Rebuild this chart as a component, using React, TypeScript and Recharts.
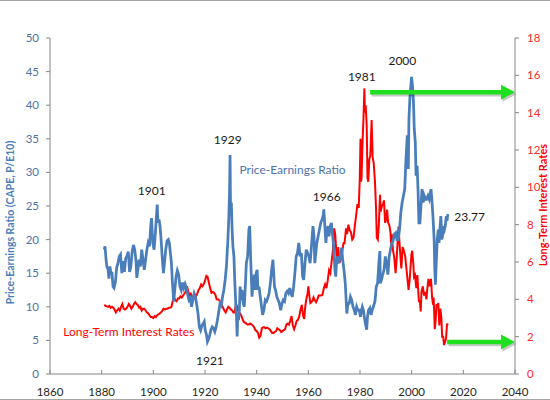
import React from 'react';
import { ComposedChart, Line, XAxis, YAxis, ReferenceLine, ReferenceDot } from 'recharts';

// Cyclically adjusted P/E (CAPE, P/E10) — year, value
const peYears = [
  1881.0, 1881.3, 1881.7, 1882.0, 1882.5, 1882.8, 1883.2, 1883.6, 1884.0, 1884.4, 1884.8, 1885.3, 1885.8,
  1886.3, 1886.8, 1887.3, 1887.8, 1888.3, 1888.8, 1889.3, 1889.8, 1890.3, 1890.8, 1891.3, 1891.8, 1892.3,
  1892.8, 1893.3, 1893.6, 1894.0, 1894.5, 1895.0, 1895.5, 1896.0, 1896.5, 1897.0, 1897.5, 1898.0, 1898.5,
  1899.0, 1899.3, 1899.8, 1900.3, 1900.8, 1901.2, 1901.5, 1901.8, 1902.2, 1902.6, 1903.0, 1903.5, 1903.9,
  1904.3, 1904.8, 1905.3, 1905.8, 1906.2, 1906.6, 1907.0, 1907.4, 1907.9, 1908.3, 1908.8, 1909.3, 1909.8,
  1910.3, 1910.8, 1911.3, 1911.8, 1912.3, 1912.8, 1913.3, 1913.8, 1914.3, 1914.8, 1915.3, 1915.8, 1916.3,
  1916.8, 1917.3, 1917.8, 1918.3, 1918.8, 1919.3, 1919.7, 1920.1, 1920.6, 1920.95, 1921.4, 1921.9, 1922.3,
  1922.8, 1923.3, 1923.8, 1924.3, 1924.8, 1925.3, 1925.8, 1926.3, 1926.8, 1927.3, 1927.8, 1928.3, 1928.8,
  1929.2, 1929.5, 1929.7, 1929.9, 1930.2, 1930.5, 1930.8, 1931.2, 1931.5, 1931.9, 1932.2, 1932.45, 1932.7,
  1933.0, 1933.3, 1933.6, 1933.9, 1934.3, 1934.8, 1935.2, 1935.6, 1936.0, 1936.5, 1937.0, 1937.3, 1937.7,
  1938.2, 1938.6, 1939.0, 1939.4, 1939.8, 1940.2, 1940.5, 1940.9, 1941.4, 1941.9, 1942.3, 1942.8, 1943.3,
  1943.8, 1944.3, 1944.8, 1945.3, 1945.8, 1946.3, 1946.6, 1946.9, 1947.3, 1947.8, 1948.3, 1948.8, 1949.3,
  1949.8, 1950.3, 1950.8, 1951.3, 1951.8, 1952.3, 1952.8, 1953.3, 1953.8, 1954.3, 1954.8, 1955.3, 1955.8,
  1956.3, 1956.8, 1957.3, 1957.8, 1958.2, 1958.7, 1959.2, 1959.7, 1960.2, 1960.7, 1961.2, 1961.8, 1962.2,
  1962.5, 1962.9, 1963.3, 1963.8, 1964.3, 1964.8, 1965.3, 1965.7, 1966.0, 1966.4, 1966.8, 1967.2, 1967.7,
  1968.0, 1968.5, 1968.9, 1969.3, 1969.8, 1970.3, 1970.6, 1970.9, 1971.3, 1971.8, 1972.3, 1972.9, 1973.3,
  1973.8, 1974.3, 1974.7, 1974.9, 1975.3, 1975.8, 1976.3, 1976.8, 1977.3, 1977.8, 1978.2, 1978.7, 1979.2,
  1979.7, 1980.2, 1980.6, 1980.9, 1981.3, 1981.8, 1982.2, 1982.6, 1982.9, 1983.3, 1983.8, 1984.3, 1984.8,
  1985.3, 1985.8, 1986.3, 1986.8, 1987.3, 1987.7, 1987.85, 1988.3, 1988.8, 1989.3, 1989.8, 1990.3, 1990.8,
  1991.3, 1991.8, 1992.3, 1992.8, 1993.3, 1993.8, 1994.3, 1994.8, 1995.3, 1995.8, 1996.3, 1996.8, 1997.3,
  1997.8, 1998.3, 1998.7, 1998.95, 1999.3, 1999.6, 1999.95, 2000.3, 2000.7, 2001.0, 2001.4, 2001.7, 2002.1,
  2002.5, 2002.8, 2003.2, 2003.6, 2004.0, 2004.5, 2004.9, 2005.4, 2005.8, 2006.3, 2006.8, 2007.2, 2007.5,
  2007.9, 2008.3, 2008.7, 2008.95, 2009.2, 2009.5, 2009.9, 2010.3, 2010.6, 2010.9, 2011.3, 2011.7, 2011.9,
  2012.3, 2012.7, 2013.0, 2013.4, 2013.7, 2014.0,
];
const peValues = [
  18.5, 19.0, 17.0, 16.0, 15.5, 14.2, 16.0, 15.0, 15.0, 13.0, 12.8, 13.6, 15.8,
  16.5, 17.5, 17.8, 15.0, 16.8, 15.2, 17.2, 17.6, 18.2, 15.2, 16.0, 18.2, 19.2,
  18.5, 16.8, 14.3, 15.5, 17.0, 16.0, 18.5, 17.0, 15.5, 17.0, 18.5, 19.5, 19.0,
  22.0, 23.2, 19.5, 18.5, 21.0, 23.5, 25.2, 22.5, 23.0, 22.0, 20.0, 17.0, 15.0,
  16.5, 18.5, 19.8, 20.0, 19.5, 18.0, 16.5, 13.5, 10.8, 12.5, 14.5, 15.4, 14.8,
  13.0, 12.5, 13.6, 12.8, 13.4, 12.8, 11.8, 11.0, 11.3, 10.0, 11.0, 12.0, 11.5,
  10.3, 9.0, 7.0, 6.5, 7.2, 7.5, 7.8, 6.5, 5.8, 4.8, 5.2, 5.9, 6.6,
  7.0, 6.8, 6.3, 7.0, 8.0, 9.2, 10.5, 10.2, 11.5, 12.5, 14.0, 16.0, 19.5,
  23.0, 27.0, 32.6, 24.0, 25.5, 21.5, 19.0, 17.5, 14.0, 10.5, 8.5, 5.6, 9.0,
  8.0, 9.5, 13.0, 11.0, 12.5, 10.5, 10.0, 13.0, 16.5, 17.5, 21.5, 22.0, 17.0,
  11.5, 13.5, 14.8, 12.5, 15.0, 15.5, 12.5, 13.0, 11.5, 10.0, 8.8, 9.5, 11.0,
  10.8, 11.3, 12.0, 13.5, 15.5, 17.0, 15.0, 13.0, 12.5, 11.5, 11.0, 10.5, 9.5,
  10.5, 11.0, 10.8, 12.0, 12.3, 12.0, 12.8, 12.0, 11.5, 13.0, 15.0, 17.5, 18.0,
  19.5, 17.5, 18.0, 14.5, 14.0, 16.5, 18.5, 18.0, 17.5, 16.5, 19.0, 22.0, 20.5,
  16.5, 18.0, 19.5, 20.5, 21.5, 22.5, 23.0, 23.5, 24.5, 22.0, 19.5, 21.5, 22.0,
  20.5, 22.0, 22.5, 21.0, 19.0, 15.5, 14.5, 16.5, 17.5, 16.5, 17.5, 18.8, 17.0,
  15.5, 13.5, 10.5, 9.0, 10.5, 10.5, 11.5, 11.0, 10.0, 9.5, 8.8, 10.0, 9.5,
  9.5, 8.5, 9.5, 10.0, 9.5, 8.2, 7.3, 6.6, 8.5, 9.5, 9.8, 8.8, 9.6,
  10.2, 10.8, 13.0, 13.5, 16.5, 18.3, 13.5, 14.0, 14.8, 15.5, 17.5, 16.5, 14.8,
  17.5, 18.5, 19.5, 19.8, 20.8, 21.0, 20.0, 20.0, 21.5, 24.0, 25.5, 26.5, 27.5,
  32.0, 35.5, 30.5, 38.0, 41.0, 42.5, 44.2, 43.0, 40.5, 36.5, 34.5, 29.5, 31.0,
  27.0, 22.5, 22.5, 25.0, 27.5, 25.5, 26.5, 26.0, 26.0, 26.5, 26.0, 27.0, 27.5,
  25.5, 23.0, 20.0, 15.5, 13.3, 16.5, 20.0, 21.5, 19.5, 21.5, 23.5, 20.0, 20.5,
  22.0, 21.5, 22.0, 23.5, 22.8, 23.8,
];

// Long-term interest rates (%) — year, value
const rateYears = [
  1881.0, 1881.5, 1882.0, 1882.5, 1883.0, 1883.5, 1884.0, 1884.5, 1885.0, 1885.5, 1886.0, 1886.5, 1887.0,
  1887.5, 1888.0, 1888.5, 1889.0, 1889.5, 1890.0, 1890.5, 1891.0, 1891.5, 1892.0, 1892.5, 1893.0, 1893.5,
  1894.0, 1894.5, 1895.0, 1895.5, 1896.0, 1896.5, 1897.0, 1897.5, 1898.0, 1898.5, 1899.0, 1899.5, 1900.0,
  1900.5, 1901.0, 1901.5, 1902.0, 1902.5, 1903.0, 1903.5, 1904.0, 1904.5, 1905.0, 1905.5, 1906.0, 1906.5,
  1907.0, 1907.5, 1908.0, 1908.5, 1909.0, 1909.5, 1910.0, 1910.5, 1911.0, 1911.5, 1912.0, 1912.5, 1913.0,
  1913.5, 1914.0, 1914.5, 1915.0, 1915.5, 1916.0, 1916.5, 1917.0, 1917.5, 1918.0, 1918.5, 1919.0, 1919.5,
  1920.0, 1920.5, 1921.0, 1921.5, 1922.0, 1922.5, 1923.0, 1923.5, 1924.0, 1924.5, 1925.0, 1925.5, 1926.0,
  1926.5, 1927.0, 1927.5, 1928.0, 1928.5, 1929.0, 1929.5, 1930.0, 1930.5, 1931.0, 1931.5, 1932.0, 1932.3,
  1932.8, 1933.0, 1933.5, 1934.0, 1934.5, 1935.0, 1935.5, 1936.0, 1936.5, 1937.0, 1937.5, 1938.0, 1938.5,
  1939.0, 1939.5, 1940.0, 1940.5, 1941.0, 1941.5, 1942.0, 1942.5, 1943.0, 1943.5, 1944.0, 1944.5, 1945.0,
  1945.5, 1946.0, 1946.5, 1947.0, 1947.5, 1948.0, 1948.5, 1949.0, 1949.5, 1950.0, 1950.5, 1951.0, 1951.5,
  1952.0, 1952.5, 1953.0, 1953.5, 1954.0, 1954.5, 1955.0, 1955.5, 1956.0, 1956.5, 1957.0, 1957.5, 1958.0,
  1958.4, 1958.8, 1959.2, 1959.7, 1960.0, 1960.4, 1960.8, 1961.2, 1961.7, 1962.0, 1962.5, 1963.0, 1963.5,
  1964.0, 1964.5, 1965.0, 1965.5, 1966.0, 1966.5, 1967.0, 1967.5, 1968.0, 1968.5, 1969.0, 1969.5, 1970.0,
  1970.4, 1970.9, 1971.2, 1971.6, 1972.0, 1972.5, 1973.0, 1973.6, 1974.0, 1974.6, 1975.0, 1975.5, 1976.0,
  1976.5, 1977.0, 1977.5, 1978.0, 1978.5, 1979.0, 1979.5, 1979.9, 1980.2, 1980.4, 1980.6, 1981.0, 1981.3,
  1981.7, 1981.9, 1982.2, 1982.6, 1982.9, 1983.2, 1983.6, 1984.0, 1984.5, 1984.9, 1985.3, 1985.8, 1986.2,
  1986.5, 1986.9, 1987.3, 1987.75, 1988.0, 1988.5, 1988.9, 1989.3, 1989.7, 1990.0, 1990.5, 1990.9, 1991.3,
  1991.8, 1992.0, 1992.3, 1992.8, 1993.2, 1993.8, 1994.2, 1994.9, 1995.3, 1995.8, 1996.0, 1996.5, 1997.0,
  1997.5, 1998.0, 1998.8, 1999.2, 1999.9, 2000.2, 2000.7, 2000.9, 2001.3, 2001.8, 2002.2, 2002.8, 2003.2,
  2003.5, 2003.8, 2004.3, 2004.8, 2005.2, 2005.7, 2006.0, 2006.5, 2007.0, 2007.5, 2007.9, 2008.3, 2008.5,
  2008.95, 2009.3, 2009.6, 2010.0, 2010.3, 2010.7, 2011.1, 2011.5, 2011.8, 2012.2, 2012.55, 2012.9, 2013.3,
  2013.7, 2014.0,
];
const rateValues = [
  3.7, 3.65, 3.62, 3.6, 3.65, 3.55, 3.6, 3.55, 3.45, 3.3, 3.4, 3.5, 3.4,
  3.6, 3.75, 3.5, 3.45, 3.5, 3.6, 3.75, 3.65, 3.5, 3.6, 3.75, 3.85, 3.75,
  3.7, 3.55, 3.6, 3.4, 3.5, 3.5, 3.4, 3.3, 3.25, 3.15, 3.05, 3.05, 3.0,
  3.1, 3.05, 3.15, 3.2, 3.25, 3.3, 3.4, 3.5, 3.45, 3.5, 3.5, 3.55, 3.55,
  3.6, 3.9, 4.1, 3.95, 3.9, 4.05, 4.05, 4.15, 4.1, 4.2, 4.3, 4.4, 4.7,
  4.45, 4.2, 4.3, 4.15, 4.05, 4.1, 4.15, 4.3, 4.5, 4.6, 4.8, 4.7, 4.8,
  5.0, 5.25, 5.2, 4.9, 4.6, 4.35, 4.4, 4.35, 4.25, 4.0, 4.0, 3.95, 3.85,
  3.7, 3.55, 3.4, 3.3, 3.45, 3.6, 3.55, 3.45, 3.4, 3.3, 3.3, 3.75, 3.65,
  3.4, 3.35, 3.25, 3.15, 2.95, 2.8, 2.75, 2.7, 2.65, 2.65, 2.7, 2.65, 2.6,
  2.5, 2.35, 2.3, 2.2, 1.95, 2.05, 2.45, 2.5, 2.5, 2.45, 2.48, 2.45, 2.4,
  2.3, 2.2, 2.2, 2.25, 2.3, 2.45, 2.4, 2.35, 2.25, 2.3, 2.35, 2.4, 2.65,
  2.7, 2.65, 2.85, 3.1, 2.6, 2.4, 2.6, 2.85, 2.9, 3.1, 3.45, 3.7, 3.1,
  2.95, 3.6, 4.0, 4.3, 4.7, 4.2, 3.8, 3.85, 3.95, 4.1, 3.95, 3.85, 4.0,
  4.2, 4.2, 4.2, 4.25, 4.6, 4.8, 4.6, 5.0, 5.55, 5.4, 6.0, 6.6, 7.8,
  7.5, 6.4, 5.9, 6.8, 5.95, 6.1, 6.45, 7.0, 7.0, 7.8, 7.5, 8.0, 7.7,
  7.6, 7.2, 7.3, 7.95, 8.5, 9.1, 8.9, 10.4, 12.6, 10.3, 10.5, 12.5, 13.5,
  15.3, 14.0, 14.4, 13.3, 10.5, 10.3, 11.5, 11.7, 13.6, 11.6, 11.3, 10.3, 8.9,
  7.3, 7.2, 8.0, 9.6, 8.7, 9.0, 9.1, 9.3, 8.1, 8.2, 8.8, 8.1, 8.0,
  7.6, 7.0, 7.5, 6.6, 6.3, 5.4, 6.2, 7.9, 7.0, 6.0, 5.65, 6.8, 6.6,
  6.3, 5.6, 4.5, 5.0, 6.4, 6.6, 5.8, 5.2, 5.3, 4.6, 5.3, 3.9, 3.9,
  3.35, 4.4, 4.7, 4.2, 4.4, 4.0, 4.5, 5.1, 4.7, 5.1, 4.1, 3.7, 4.1,
  2.4, 2.9, 3.7, 3.7, 3.8, 2.6, 3.5, 3.0, 2.0, 2.0, 1.55, 1.7, 1.9,
  2.7, 2.6,
];

const xTicks = [1860, 1880, 1900, 1920, 1940, 1960, 1980, 2000, 2020, 2040];
const leftTicks = [0, 5, 10, 15, 20, 25, 30, 35, 40, 45, 50];
const rightTicks = [0, 2, 4, 6, 8, 10, 12, 14, 16, 18];

// Year annotations, anchored in (year, P/E) coordinates
const noteTexts = ['1901', '1929', '1921', '1966', '1981', '2000'];
const noteYears = [1899.4, 1928.8, 1921.9, 1967.1, 1980.7, 1996.4];
const noteValues = [27.3, 34.9, 2.0, 26.4, 44.3, 46.7];

// Arrows on the interest-rate axis: start year, end year, rate level
const arrowStarts = [1983.9, 2013.7];
const arrowEnds = [2040, 2040];
const arrowLevels = [15.1, 1.72];

const peData = peYears.map((year, i) => ({ year, pe: peValues[i] }));
const rateData = rateYears.map((year, i) => ({ year, rate: rateValues[i] }));

const FONT = 'Lato, "Open Sans", sans-serif';
const BLUE = '#4A7EBB';
const BLUE_TEXT = '#4F72AA';
const RED = '#FF0000';
const AXIS = '#868686';

const XTick = (props: any) => {
  const { x, y, payload } = props;
  return (
    <g>
      <line x1={x} x2={x} y1={y - 4} y2={y} stroke={AXIS} strokeWidth={1} />
      <text x={x} y={y + 21.5} textAnchor="middle" fontSize={11.5} fontFamily={FONT} fill="#262626">
        {payload.value}
      </text>
    </g>
  );
};

const NoteShape = (text: string, color: string, anchor: string) => (p: any) => (
  <text
    x={p.cx}
    y={p.cy}
    textAnchor={anchor}
    dominantBaseline="central"
    fontSize={12}
    fontFamily={FONT}
    fill={color}
  >
    {text}
  </text>
);

const ArrowShape = (p: any) => {
  const { x1, y1, x2 } = p;
  const y = y1;
  const head = 14;
  const half = 7.5;
  const body = (dx: number, dy: number, color: string) => (
    <g transform={`translate(${dx},${dy})`}>
      <line x1={x1} x2={x2 - head + 1} y1={y} y2={y} stroke={color} strokeWidth={4.5} />
      <polygon points={`${x2},${y} ${x2 - head},${y - half} ${x2 - head},${y + half}`} fill={color} />
    </g>
  );
  return (
    <g>
      {body(1.5, 2, 'rgba(0,0,0,0.22)')}
      {body(0, 0, '#1FE01F')}
    </g>
  );
};

const LeftTitle = (props: any) => {
  const vb = props.viewBox;
  const cx = vb.x + 9.5;
  const cy = vb.y + vb.height / 2 + 16.5;
  return (
    <text
      x={cx}
      y={cy}
      transform={`rotate(-90 ${cx} ${cy})`}
      textAnchor="middle"
      dominantBaseline="central"
      fontSize={10.5}
      fontWeight="bold"
      fontFamily={FONT}
      fill={BLUE}
    >
      Price-Earnings Ratio (CAPE, P/E10)
    </text>
  );
};

const RightTitle = (props: any) => {
  const vb = props.viewBox;
  const cx = vb.x + 27;
  const cy = vb.y + vb.height / 2 - 1;
  return (
    <text
      x={cx}
      y={cy}
      transform={`rotate(-90 ${cx} ${cy})`}
      textAnchor="middle"
      dominantBaseline="central"
      fontSize={11}
      fontWeight="bold"
      fontFamily={FONT}
      fill={RED}
    >
      Long-Term Interest Rates
    </text>
  );
};

export default function App() {
  return (
    <div style={{ position: 'absolute', left: 0, top: 0, width: 550, height: 400, background: '#fff' }}>
      <div style={{ position: 'absolute', left: 0, top: 0, width: 550, height: 1, background: '#a6a6a6' }} />
      <div style={{ position: 'absolute', left: 0, top: 399, width: 550, height: 1, background: '#a6a6a6' }} />
      <ComposedChart width={550} height={400} margin={{ top: 38, right: 0, bottom: 0, left: 0 }}>
        <XAxis
          dataKey="year"
          type="number"
          domain={[1860, 2040]}
          ticks={xTicks}
          allowDataOverflow
          height={26}
          stroke={AXIS}
          tickLine={false}
          tickSize={0}
          tickMargin={0}
          tick={<XTick />}
        />
        <YAxis
          yAxisId="left"
          orientation="left"
          domain={[0, 50]}
          ticks={leftTicks}
          width={50}
          stroke={AXIS}
          tickSize={4}
          tickMargin={7}
          tick={{ fill: BLUE_TEXT, fontSize: 11.5, fontFamily: FONT }}
          label={{ content: LeftTitle }}
        />
        <YAxis
          yAxisId="right"
          orientation="right"
          domain={[0, 18]}
          ticks={rightTicks}
          width={35}
          stroke={AXIS}
          tickSize={4}
          tickMargin={8}
          tick={{ fill: '#FF2A2A', fontSize: 11.5, fontFamily: FONT }}
          label={{ content: RightTitle }}
        />
        <Line
          yAxisId="right"
          data={rateData}
          dataKey="rate"
          type="linear"
          stroke={RED}
          strokeWidth={2}
          dot={false}
          isAnimationActive={false}
        />
        <Line
          yAxisId="left"
          data={peData}
          dataKey="pe"
          type="linear"
          stroke={BLUE}
          strokeWidth={2.75}
          dot={false}
          isAnimationActive={false}
        />
        {noteTexts.map((t, i) => (
          <ReferenceDot
            key={t}
            yAxisId="left"
            x={noteYears[i]}
            y={noteValues[i]}
            r={1}
            ifOverflow="visible"
            shape={NoteShape(t, '#1a1a1a', 'middle')}
          />
        ))}
        <ReferenceDot
          yAxisId="left"
          x={2016.5}
          y={23.5}
          r={1}
          ifOverflow="visible"
          shape={NoteShape('23.77', '#1a1a1a', 'start')}
        />
        <ReferenceDot
          yAxisId="left"
          x={1953.9}
          y={30.5}
          r={1}
          ifOverflow="visible"
          shape={NoteShape('Price-Earnings Ratio', BLUE_TEXT, 'middle')}
        />
        <ReferenceDot
          yAxisId="right"
          x={1890.5}
          y={2.3}
          r={1}
          ifOverflow="visible"
          shape={NoteShape('Long-Term Interest Rates', RED, 'middle')}
        />
        {arrowStarts.map((s, i) => (
          <ReferenceLine
            key={i}
            yAxisId="right"
            segment={[
              { x: s, y: arrowLevels[i] },
              { x: arrowEnds[i], y: arrowLevels[i] },
            ]}
            ifOverflow="visible"
            shape={ArrowShape}
          />
        ))}
      </ComposedChart>
    </div>
  );
}
